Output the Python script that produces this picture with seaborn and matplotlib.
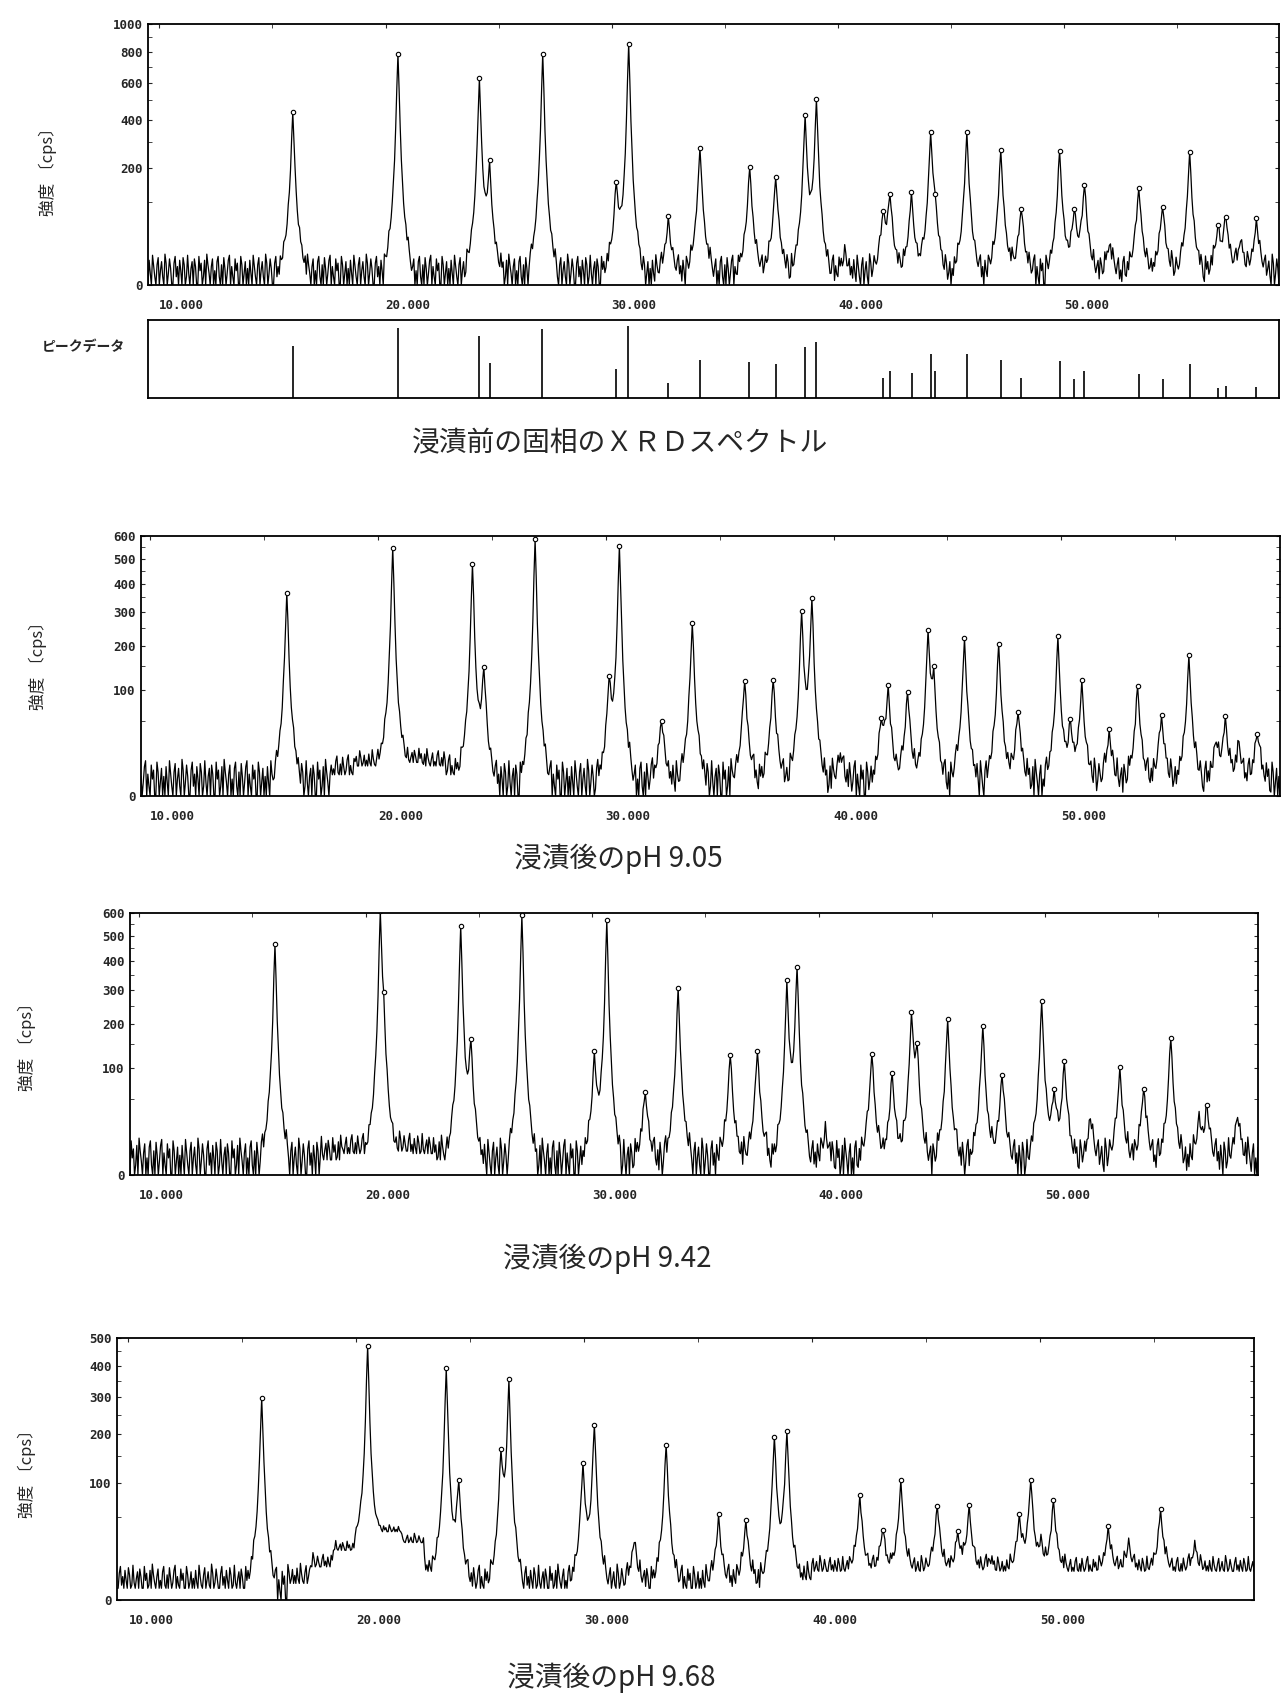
import numpy as np
import pandas as pd
import matplotlib
matplotlib.use('Agg')
from matplotlib import pyplot as plt
import seaborn as sns

# 00 - data (2theta deg, intensity cps)
p1_pos = [15.9, 20.57, 24.15, 24.6, 26.93, 30.2, 30.74, 32.5, 33.9, 36.08, 37.27, 38.55, 39.04, 40.3,
          42.0, 42.3, 43.26, 44.1, 44.3, 45.7, 47.22, 48.1, 49.8, 50.45, 50.88, 52.0, 53.3, 54.35,
          55.57, 56.8, 57.15, 57.8, 58.5]
p1_int = [430, 785, 616, 200, 774, 150, 854, 56, 276, 203, 170, 410, 490, 12,
          70, 115, 114, 330, 60, 336, 262, 84, 260, 80, 145, 22, 137, 90,
          250, 45, 65, 28, 56]

p2_pos = [15.98, 20.63, 24.15, 24.63, 26.9, 30.16, 30.6, 32.44, 33.8, 36.08, 37.35, 38.6, 39.07, 40.3,
          42.1, 42.4, 43.27, 44.15, 44.4, 45.77, 47.24, 48.1, 49.87, 50.4, 50.88, 52.08, 53.35, 54.4,
          55.6, 56.8, 57.2, 57.8, 58.6]
p2_int = [365, 548, 475, 140, 585, 113, 553, 50, 263, 118, 120, 293, 339, 14,
          45, 99, 94, 225, 110, 216, 202, 62, 215, 44, 108, 32, 102, 54,
          166, 24, 48, 21, 34]

p3_pos = [16.02, 20.63, 20.8, 24.18, 24.63, 26.9, 30.1, 30.65, 32.37, 33.8, 36.1, 37.3, 38.6, 39.07, 40.3,
          42.36, 43.23, 44.08, 44.34, 45.7, 47.23, 48.1, 49.84, 50.4, 50.85, 52.0, 53.3, 54.36,
          55.56, 56.8, 57.15, 58.5]
p3_int = [460, 576, 120, 540, 146, 588, 120, 562, 58, 302, 125, 134, 314, 372, 14,
          128, 87, 216, 125, 210, 193, 87, 263, 58, 108, 26, 95, 64,
          163, 24, 36, 29]

p4_pos = [15.84, 20.52, 23.96, 24.48, 26.33, 26.72, 29.97, 30.45, 32.2, 33.6, 35.9, 37.1, 38.34, 38.9,
          42.1, 43.1, 43.9, 45.5, 46.4, 46.9, 47.8, 49.1, 49.6, 50.06, 50.6, 53.0, 53.9, 55.3, 56.8]
p4_int = [296, 470, 390, 100, 145, 340, 131, 222, 24, 175, 45, 42, 193, 205,
          75, 35, 100, 63, 30, 60, 11, 48, 103, 22, 70, 35, 22, 56, 20]

# background level per whole degree, 9 .. 59
p1_bg = [0] * 51
p2_bg = [0] * 9 + [4, 8, 10, 10, 8, 4] + [0] * 36
p3_bg = [0] * 9 + [2, 4, 5, 5, 4, 2] + [0] * 36
p4_bg = ([1, 1, 1, 1, 1, 1, 1, 0, 2, 8, 18, 28, 34, 24, 6, 1, 1, 1, 1, 1, 1, 1, 1, 1, 1, 1, 1, 1, 1, 1, 3]
         + [6] * 20)

# stick pattern under the first scan (relative height)
stick_pos = [15.9, 20.57, 24.15, 24.6, 26.93, 30.2, 30.74, 32.5, 33.9, 36.08, 37.27, 38.55, 39.04, 42.0,
             42.3, 43.26, 44.1, 44.3, 45.7, 47.22, 48.1, 49.8, 50.45, 50.88, 53.3, 54.35, 55.57, 56.8,
             57.15, 58.5]
stick_h = [0.67, 0.90, 0.79, 0.45, 0.88, 0.375, 0.92, 0.19, 0.49, 0.46, 0.43, 0.65, 0.72, 0.26,
           0.35, 0.32, 0.57, 0.35, 0.56, 0.49, 0.25, 0.47, 0.24, 0.34, 0.31, 0.24, 0.44, 0.125,
           0.15, 0.14]

# peak shape (half, 0.05 deg steps) and counting noise
half_profile = [1.0, 0.72, 0.45, 0.29, 0.19, 0.125, 0.085, 0.057, 0.038, 0.025, 0.015, 0.008, 0.004, 0.0]
noise_pattern = [0, 9, 2, 0, 13, 5, 1, 0, 6, 11, 0, 3, 8, 1, 0, 14, 7, 0, 2, 10, 4, 0, 0, 7, 12, 1, 5,
                 0, 9, 3, 0, 11, 6, 0, 1, 13, 2, 0, 4, 8, 0, 10, 5, 0, 0, 12, 3, 7, 0, 1, 9, 0, 14, 6,
                 2, 0, 5, 10, 0, 3, 0, 8, 12, 1, 0, 6, 0, 11, 4, 0, 2, 9, 13, 0, 5, 1, 0, 10, 3, 7, 0,
                 0, 12, 6, 0, 2, 8, 0, 4]

titles = ['浸漬前の固相のＸＲＤスペクトル', '浸漬後のpH 9.05', '浸漬後のpH 9.42', '浸漬後のpH 9.68']
ylabel = '強度 〔cps〕'
x_ticks = [10, 20, 30, 40, 50]
x_ticklabels = ['10.000', '20.000', '30.000', '40.000', '50.000']

# 01 - build traces
step = 0.05
two_theta = np.round(np.arange(9.5, 59.65, step), 2)
profile = np.array(half_profile[::-1] + half_profile[1:])
k = len(half_profile) - 1


def build_trace(pos, inten, bg, noise_scale, shift):
    bg = np.array(bg, dtype=float)
    bg_idx = np.clip(np.floor(two_theta).astype(int) - 9, 0, len(bg) - 1)
    y = bg[bg_idx].copy()
    y += np.resize(np.roll(noise_pattern, shift), len(two_theta)) * noise_scale
    centers = []
    for p, h in zip(pos, inten):
        c = int(round((p - two_theta[0]) / step))
        h_eff = max(h - bg[bg_idx[c]], 0)
        for j, v in enumerate(profile):
            i = c - k + j
            if 0 <= i < len(y):
                y[i] += h_eff * v
        centers.append(c)
    return y, centers


panels = [
    dict(pos=p1_pos, inten=p1_int, bg=p1_bg, ns=1.0, shift=0, ymax=1000,
         major=[0, 200, 400, 600, 800, 1000], minor=list(range(100, 1000, 200)),
         box=(148, 24, 1279, 285), xlim=(9.5, 59.5)),
    dict(pos=p2_pos, inten=p2_int, bg=p2_bg, ns=0.85, shift=23, ymax=600,
         major=[0, 100, 200, 300, 400, 500, 600], minor=list(range(50, 600, 100)),
         box=(141, 536, 1280, 796), xlim=(9.6, 59.6)),
    dict(pos=p3_pos, inten=p3_int, bg=p3_bg, ns=0.85, shift=47, ymax=600,
         major=[0, 100, 200, 300, 400, 500, 600], minor=list(range(50, 600, 100)),
         box=(130, 913, 1258, 1175), xlim=(9.6, 59.4)),
    dict(pos=p4_pos, inten=p4_int, bg=p4_bg, ns=0.6, shift=68, ymax=500,
         major=[0, 100, 200, 300, 400, 500], minor=list(range(50, 500, 100)),
         box=(117, 1338, 1254, 1600), xlim=(9.5, 59.4)),
]
title_xy = [(620, 443), (618, 859), (607, 1259), (611, 1678)]
ylabel_xy = [(48, 168), (38, 662), (27, 1043), (27, 1470)]

# 02 - figure
sns.set_style('white')
plt.rcParams['font.family'] = ['Noto Sans CJK JP', 'DejaVu Sans']
W, H = 1286, 1694
fig = plt.figure(figsize=(W / 100, H / 100), dpi=100)


def add_axes_px(left, top, right, bottom):
    return fig.add_axes([left / W, 1 - bottom / H, (right - left) / W, (bottom - top) / H])


def sqrt_fwd(v):
    return np.sqrt(np.clip(v, 0, None))


def sqrt_inv(v):
    return np.square(v)


tick_font = dict(family='DejaVu Sans Mono', weight='bold', size=9)

for n, pan in enumerate(panels):
    ax = add_axes_px(*pan['box'])
    trace, centers = build_trace(pan['pos'], pan['inten'], pan['bg'], pan['ns'], pan['shift'])
    mask = (two_theta >= pan['xlim'][0]) & (two_theta <= pan['xlim'][1])
    df = pd.DataFrame({'two_theta': two_theta[mask], 'cps': trace[mask]})
    sns.lineplot(data=df, x='two_theta', y='cps', ax=ax, color='black', linewidth=0.9)

    keep = [c for c, h in zip(centers, pan['inten']) if h >= 30]
    marks = pd.DataFrame({'two_theta': two_theta[keep], 'cps': trace[keep]})
    sns.scatterplot(data=marks, x='two_theta', y='cps', ax=ax, marker='o', s=10,
                    facecolor='white', edgecolor='black', linewidth=0.8, zorder=3)

    ax.set_yscale('function', functions=(sqrt_fwd, sqrt_inv))
    ax.set_ylim(0, pan['ymax'])
    ax.set_xlim(*pan['xlim'])
    ax.set_yticks(pan['major'])
    ax.set_yticklabels([str(v) for v in pan['major']], fontdict=tick_font)
    ax.set_yticks(pan['minor'], minor=True)
    ax.set_xticks(x_ticks)
    ax.set_xticklabels(x_ticklabels, fontdict=tick_font, ha='left')
    ax.set_xticks(np.arange(15, 60, 10), minor=True)
    ax.tick_params(axis='x', which='both', bottom=False, top=True, direction='in', length=3, pad=10)
    ax.tick_params(axis='y', which='both', left=True, right=True, direction='in', length=3, pad=4)
    ax.set_xlabel('')
    ax.set_ylabel('')
    for sp in ax.spines.values():
        sp.set_color('black')
        sp.set_linewidth(1.3)

    fig.text(ylabel_xy[n][0] / W, 1 - ylabel_xy[n][1] / H, ylabel, rotation=90,
             ha='center', va='center', fontsize=12)
    fig.text(title_xy[n][0] / W, 1 - title_xy[n][1] / H, titles[n],
             ha='center', va='center', fontsize=20)

# stick pattern panel
ax_s = add_axes_px(148, 320, 1279, 398)
ax_s.vlines(stick_pos, 0, stick_h, color='black', linewidth=1.2)
ax_s.set_xlim(9.5, 59.5)
ax_s.set_ylim(0, 1)
ax_s.set_xticks([])
ax_s.set_yticks([])
for sp in ax_s.spines.values():
    sp.set_color('black')
    sp.set_linewidth(1.3)
fig.text(83 / W, 1 - 347 / H, 'ピークデータ', ha='center', va='center', fontsize=10, weight='bold')

fig.savefig('out.png', dpi=100, facecolor='white')
